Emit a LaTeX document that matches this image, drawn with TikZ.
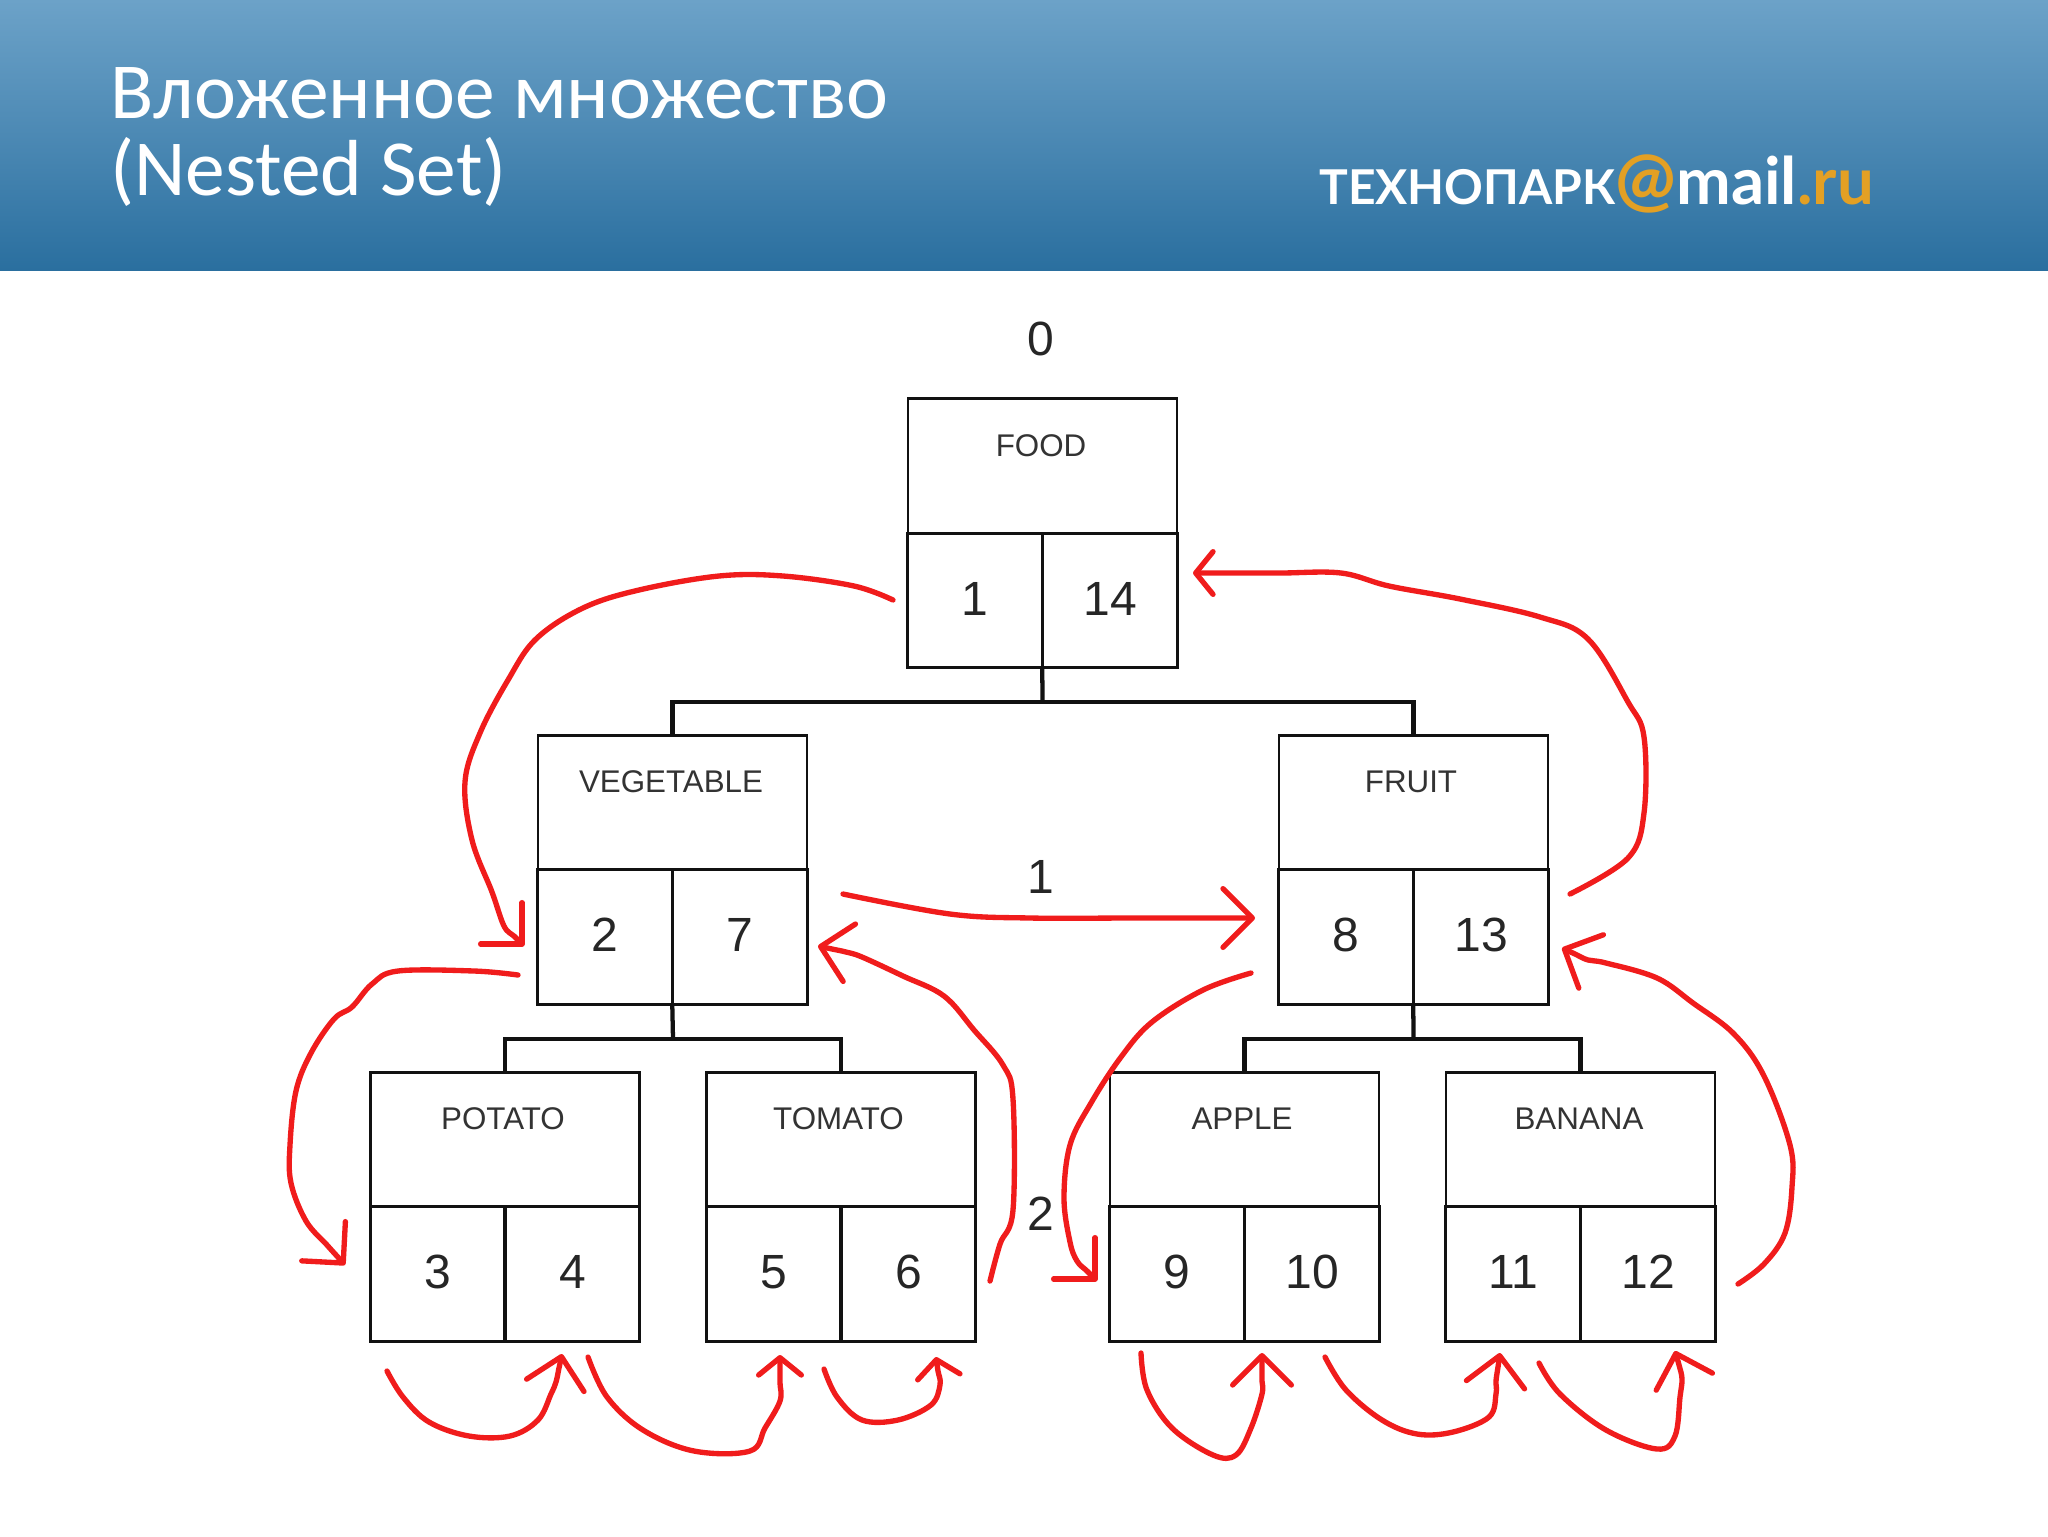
\documentclass[tikz,border=0pt]{standalone}
\usepackage{fontspec}
\setmainfont{Liberation Sans}
\newfontfamily\titlefont{Carlito}
\newfontfamily\logofont{Lato}
\usetikzlibrary{arrows.meta}
\definecolor{headtop}{HTML}{6CA2C8}
\definecolor{headmid}{HTML}{4C89B4}
\definecolor{headlow}{HTML}{2A6F9F}
\definecolor{inkred}{HTML}{F01C1C}
\definecolor{logoorange}{HTML}{E3A024}
\definecolor{boxink}{HTML}{111111}
\tikzset{
  namebox/.style={draw=boxink,line width=2pt,minimum width=201.75pt,minimum height=100.9pt,inner sep=0pt,outer sep=0pt},
  valbox/.style={draw=boxink,line width=2pt,minimum width=100.9pt,minimum height=100.9pt,inner sep=0pt,outer sep=0pt,text=black!85,text height=26pt,text depth=4.2pt,font=\fontsize{36}{43}\selectfont},
  nametext/.style={inner sep=0pt,text=black!80,font=\fontsize{23.5}{28}\selectfont},
  steptext/.style={inner sep=0pt,text=black!85,font=\fontsize{36}{43}\selectfont},
  branch/.style={draw=boxink,line width=3.2pt},
  inkline/.style={draw=inkred,line width=4pt,line cap=round,line join=round},
  bighead/.style={inkline,-{Straight Barb[length=22pt,width=44pt,round]}},
  smallhead/.style={inkline,-{Straight Barb[length=13pt,width=32pt,round]}},
}
\begin{document}
\begin{tikzpicture}[x=0.75pt,y=0.75pt,yscale=-1,xscale=1]
\useasboundingbox (0,0) rectangle (2048,1536);

%Header band
\fill[white] (0,0) rectangle (2048,1536);
\shade[top color=headtop,bottom color=headlow,middle color=headmid] (0,0) rectangle (2048,270);

% Text Node
\node[anchor=base west,inner sep=0pt,text=white,font=\titlefont\fontsize{59.6}{62}\selectfont] (headline) at (110,118.5) {Вложенное множество};
% Text Node
\node[anchor=base west,inner sep=0pt,text=white,font=\titlefont\fontsize{59.6}{62}\selectfont] (subline) at (110,195.5) {(Nested Set)};
% Text Node
\node[anchor=base west,inner sep=0pt,text=white,font=\logofont\bfseries\fontsize{36}{40}\selectfont] (logo) at (1319,204) {ТЕХНОПАРК\textcolor{logoorange}{\fontsize{54}{54}\selectfont @}{\fontsize{49}{49}\selectfont mail\textcolor{logoorange}{.ru}}};

%Shape: Boxes
\node[namebox] (food) at (1042.5,466) {};
\node[valbox] (foodl) at (975,600.5) {1};
\node[valbox] (foodr) at (1110,600.5) {14};
\node[namebox] (vege) at (672.5,802.5) {};
\node[valbox] (vegel) at (605,937) {2};
\node[valbox] (veger) at (740,937) {7};
\node[namebox] (fruit) at (1413.5,802.5) {};
\node[valbox] (fruitl) at (1346,937) {8};
\node[valbox] (fruitr) at (1481,937) {13};
\node[namebox] (potato) at (505,1139.5) {};
\node[valbox] (potatol) at (437.5,1274) {3};
\node[valbox] (potator) at (572.5,1274) {4};
\node[namebox] (tomato) at (841,1139.5) {};
\node[valbox] (tomatol) at (773.5,1274) {5};
\node[valbox] (tomator) at (908.5,1274) {6};
\node[namebox] (apple) at (1244.5,1139.5) {};
\node[valbox] (applel) at (1177,1274) {9};
\node[valbox] (appler) at (1312,1274) {10};
\node[namebox] (banana) at (1580.5,1139.5) {};
\node[valbox] (bananal) at (1513,1274) {11};
\node[valbox] (bananar) at (1648,1274) {12};

% Text Node
\node[nametext] (foodname) at (1041,446) {FOOD};
% Text Node
\node[nametext] (vegename) at (671,782) {VEGETABLE};
% Text Node
\node[nametext] (fruitname) at (1411,782) {FRUIT};
% Text Node
\node[nametext] (potatoname) at (503,1119) {POTATO};
% Text Node
\node[nametext] (tomatoname) at (838.5,1119) {TOMATO};
% Text Node
\node[nametext] (applename) at (1242,1119) {APPLE};
% Text Node
\node[nametext] (banananame) at (1579,1119) {BANANA};
% Text Node
\node[steptext] (stepzero) at (1041,339) {0};
% Text Node
\node[steptext] (stepone) at (1041,877) {1};
% Text Node
\node[steptext] (steptwo) at (1041,1214) {2};

%Straight Lines
\coordinate (foodfork) at (1042.5,702);
\coordinate (vegefork) at (673,1039);
\coordinate (fruitfork) at (1413.5,1039);
\draw[branch] (foodl.south east) -- (foodfork);
\draw[branch] (vege.north) |- (foodfork) -| (fruit.north);
\draw[branch] (vegel.south east) -- (vegefork);
\draw[branch] (potato.north) |- (vegefork) -| (tomato.north);
\draw[branch] (fruitl.south east) -- (fruitfork);
\draw[branch] (apple.north) |- (fruitfork) -| (banana.north);

%Hand drawn arrows
\coordinate (outa) at (893,600);
\coordinate (ina) at (524,946);
\draw[bighead] plot[smooth,tension=0.6] coordinates {(outa) (854,586) (783,576) (719,576) (639,590) (583,608) (536,639) (508,680) (480,733) (465,782) (472,840) (492,892) (504,926) (514,936) (ina)};
\coordinate (outb) at (518,975);
\coordinate (inb) at (345,1265);
\draw[bighead] plot[smooth,tension=0.6] coordinates {(outb) (474,971) (398,971) (372,984) (352,1007) (334,1019) (311,1053) (296,1091) (290,1145) (291,1183) (306,1221) (327,1245) (336,1255) (inb)};
\coordinate (outc) at (387,1371);
\coordinate (inc) at (562,1354);
\draw[bighead] plot[smooth,tension=0.6] coordinates {(outc) (403,1397) (429,1422) (469,1436) (510,1436) (538,1420) (551,1394) (556,1382) (559,1368) (inc)};
\coordinate (outd) at (588,1357);
\coordinate (ind) at (780,1355);
\draw[smallhead] plot[smooth,tension=0.6] coordinates {(outd) (607,1397) (643,1430) (694,1451) (750,1451) (765,1428) (780,1401) (780,1383) (780,1369) (ind)};
\coordinate (oute) at (824,1369);
\coordinate (ine) at (936,1357);
\draw[smallhead] plot[smooth,tension=0.6] coordinates {(oute) (837,1397) (862,1420) (898,1420) (931,1405) (940,1385) (938,1371) (ine)};
\coordinate (outf) at (990,1281);
\coordinate (inf) at (818,946);
\draw[bighead] plot[smooth,tension=0.6] coordinates {(outf) (1000,1244) (1013,1210) (1013,1099) (1003,1065) (974,1030) (944,996) (903,976) (862,957) (846,952) (832,949) (inf)};
\coordinate (outg) at (843,894);
\coordinate (ing) at (1255,918);
\draw[bighead] plot[smooth,tension=0.6] coordinates {(outg) (950,914) (1030,918) (1130,918) (1200,918) (1227,918) (1241,918) (ing)};
\coordinate (outh) at (1251,973);
\coordinate (inh) at (1097,1281);
\draw[bighead] plot[smooth,tension=0.6] coordinates {(outh) (1203,990) (1152,1022) (1121,1057) (1091,1103) (1070,1145) (1064,1198) (1070,1242) (1077,1261) (1087,1271) (inh)};
\coordinate (outi) at (1141,1353);
\coordinate (ini) at (1262,1353);
\draw[bighead] plot[smooth,tension=0.6] coordinates {(outi) (1147,1390) (1172,1428) (1213,1455) (1236,1455) (1251,1428) (1262,1394) (1262,1381) (1262,1367) (ini)};
\coordinate (outj) at (1325,1357);
\coordinate (inj) at (1500,1353);
\draw[bighead] plot[smooth,tension=0.6] coordinates {(outj) (1346,1390) (1382,1420) (1417,1434) (1453,1432) (1489,1417) (1496,1394) (1496,1381) (1498,1367) (inj)};
\coordinate (outk) at (1539,1363);
\coordinate (ink) at (1675,1351);
\draw[bighead] plot[smooth,tension=0.6] coordinates {(outk) (1560,1394) (1606,1430) (1657,1449) (1675,1436) (1680,1397) (1682,1379) (1679,1365) (ink)};
\coordinate (outl) at (1738,1284);
\coordinate (inl) at (1562,948);
\draw[bighead] plot[smooth,tension=0.6] coordinates {(outl) (1764,1264) (1785,1233) (1792,1187) (1790,1145) (1764,1076) (1734,1034) (1693,1003) (1657,978) (1606,963) (1588,960) (1575,954) (inl)};
\coordinate (outm) at (1570,894);
\coordinate (inm) at (1193,573);
\draw[smallhead] plot[smooth,tension=0.6] coordinates {(outm) (1628,858) (1644,813) (1644,737) (1628,702) (1588,639) (1540,617) (1460,599) (1389,586) (1341,573) (1280,573) (1221,573) (1207,573) (inm)};

\end{tikzpicture}
\end{document}
